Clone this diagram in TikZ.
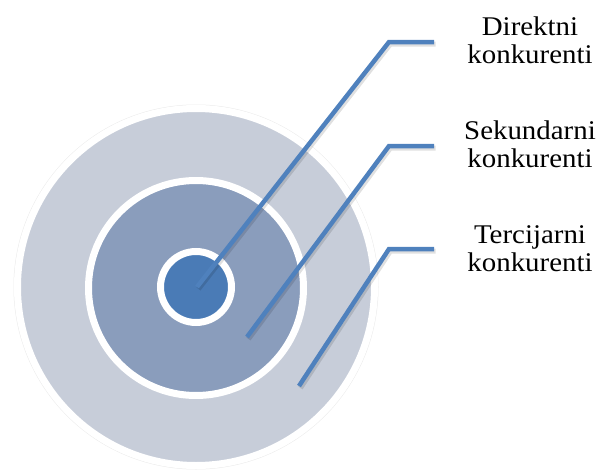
\documentclass[tikz,border=0pt]{standalone}
\usepackage{fontspec}
\setmainfont{Liberation Serif}[FakeStretch=1.07]
\usetikzlibrary{shadows}
\definecolor{outerc}{HTML}{C7CDD9}
\definecolor{midc}{HTML}{8A9DBC}
\definecolor{innerc}{HTML}{4A7BB6}
\definecolor{linec}{HTML}{4F81BD}
\begin{document}
\begin{tikzpicture}[x=1pt,y=-1pt,
  ring/.style={circle, draw=white, line width=7pt, inner sep=0pt,
    drop shadow={shadow xshift=1.5pt, shadow yshift=-2.5pt, opacity=0.35, fill=black!50}},
  lead/.style={draw=linec, line width=4.5pt, line join=miter,
    preaction={draw=black, opacity=0.12, line width=5pt, transform canvas={xshift=1.5pt,yshift=-2pt}}},
  lbl/.style={align=center, font=\fontsize{27}{28}\selectfont, inner sep=0pt, anchor=north}]
\useasboundingbox (0,0) rectangle (597,471);
\draw[black!8, line width=1pt] (196,287) circle[radius=182pt];
\node[ring, fill=outerc, minimum size=357pt] (outer) at (196,287) {};
\node[ring, fill=midc, minimum size=215pt] (mid) at (196,288) {};
\node[ring, fill=innerc, minimum size=71pt] (inner) at (196,287) {};

\coordinate (s1) at (197,287);
\coordinate (k1) at (389,42);
\coordinate (e1) at (434,42);
\coordinate (s2) at (247,337);
\coordinate (k2) at (389,146);
\coordinate (e2) at (434,146);
\coordinate (s3) at (299,386);
\coordinate (k3) at (389,249);
\coordinate (e3) at (434,249);

\draw[lead] (s1) -- (k1) -- (e1);
\draw[lead] (s2) -- (k2) -- (e2);
\draw[lead] (s3) -- (k3) -- (e3);

\node[lbl] (t1) at (530,17) {Direktni\\konkurenti};
\node[lbl] (t2) at (530,121) {Sekundarni\\konkurenti};
\node[lbl] (t3) at (530,225) {Tercijarni\\konkurenti};
\end{tikzpicture}
\end{document}
